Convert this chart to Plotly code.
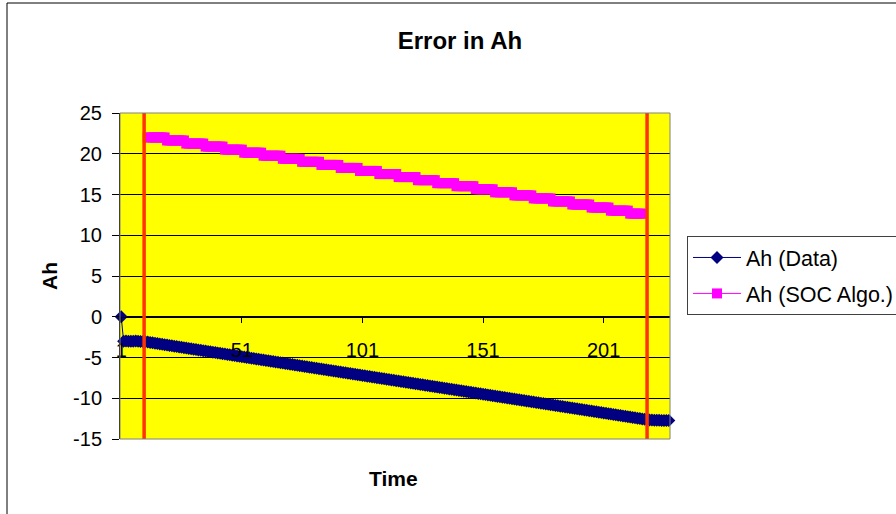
import plotly.graph_objects as go

# Sample index (category axis, 1..228)
time_idx = list(range(1, 229))
x_tick_vals = [1, 51, 101, 151, 201]
x_tick_text = ["1", "51", "101", "151", "201"]
y_tick_vals = [-15, -10, -5, 0, 5, 10, 15, 20, 25]
y_tick_text = ["-15", "-10", "-5", "0", "5", "10", "15", "20", "25"]

# Measured Ah
ah_data = [
    0.00,
    -3.00, -2.98, -3.00, -3.02, -3.00, -2.99, -3.01, -3.03, -3.04,
    -3.06, -3.11, -3.15, -3.20, -3.24, -3.29, -3.34, -3.38, -3.43, -3.47,
    -3.52, -3.57, -3.61, -3.66, -3.70, -3.75, -3.80, -3.84, -3.89, -3.93,
    -3.98, -4.03, -4.07, -4.12, -4.16, -4.21, -4.26, -4.30, -4.35, -4.39,
    -4.44, -4.49, -4.53, -4.58, -4.62, -4.67, -4.72, -4.76, -4.81, -4.85,
    -4.90, -4.95, -4.99, -5.04, -5.08, -5.13, -5.18, -5.22, -5.27, -5.31,
    -5.36, -5.41, -5.45, -5.50, -5.54, -5.59, -5.64, -5.68, -5.73, -5.77,
    -5.82, -5.87, -5.91, -5.96, -6.00, -6.05, -6.10, -6.14, -6.19, -6.23,
    -6.28, -6.33, -6.37, -6.42, -6.46, -6.51, -6.56, -6.60, -6.65, -6.69,
    -6.74, -6.79, -6.83, -6.88, -6.92, -6.97, -7.02, -7.06, -7.11, -7.15,
    -7.20, -7.25, -7.29, -7.34, -7.38, -7.43, -7.48, -7.52, -7.57, -7.61,
    -7.66, -7.71, -7.75, -7.80, -7.84, -7.89, -7.94, -7.98, -8.03, -8.07,
    -8.12, -8.17, -8.21, -8.26, -8.30, -8.35, -8.40, -8.44, -8.49, -8.53,
    -8.58, -8.63, -8.67, -8.72, -8.76, -8.81, -8.86, -8.90, -8.95, -8.99,
    -9.04, -9.09, -9.13, -9.18, -9.22, -9.27, -9.32, -9.36, -9.41, -9.45,
    -9.50, -9.55, -9.59, -9.64, -9.68, -9.73, -9.78, -9.82, -9.87, -9.91,
    -9.96, -10.01, -10.05, -10.10, -10.14, -10.19, -10.24, -10.28, -10.33, -10.37,
    -10.42, -10.47, -10.51, -10.56, -10.60, -10.65, -10.70, -10.74, -10.79, -10.83,
    -10.88, -10.93, -10.97, -11.02, -11.06, -11.11, -11.16, -11.20, -11.25, -11.29,
    -11.34, -11.39, -11.43, -11.48, -11.52, -11.57, -11.62, -11.66, -11.71, -11.75,
    -11.80, -11.85, -11.89, -11.94, -11.98, -12.03, -12.08, -12.12, -12.17, -12.21,
    -12.26, -12.31, -12.35, -12.40, -12.44, -12.49, -12.54, -12.58,
    -12.62, -12.66, -12.68, -12.70, -12.70, -12.71, -12.72, -12.72, -12.73, -12.73,
]

# Ah reported by the SOC algorithm (only inside the evaluation window)
ah_soc = [None] * 11 + [
    22.00, 22.00, 22.00, 22.00, 22.00, 22.00, 22.00, 22.00,
    21.63, 21.63, 21.63, 21.63, 21.63, 21.63, 21.63, 21.63,
    21.25, 21.25, 21.25, 21.25, 21.25, 21.25, 21.25, 21.25,
    20.88, 20.88, 20.88, 20.88, 20.88, 20.88, 20.88, 20.88,
    20.50, 20.50, 20.50, 20.50, 20.50, 20.50, 20.50, 20.50,
    20.13, 20.13, 20.13, 20.13, 20.13, 20.13, 20.13, 20.13,
    19.76, 19.76, 19.76, 19.76, 19.76, 19.76, 19.76, 19.76,
    19.38, 19.38, 19.38, 19.38, 19.38, 19.38, 19.38, 19.38,
    19.01, 19.01, 19.01, 19.01, 19.01, 19.01, 19.01, 19.01,
    18.63, 18.63, 18.63, 18.63, 18.63, 18.63, 18.63, 18.63,
    18.26, 18.26, 18.26, 18.26, 18.26, 18.26, 18.26, 18.26,
    17.89, 17.89, 17.89, 17.89, 17.89, 17.89, 17.89, 17.89,
    17.51, 17.51, 17.51, 17.51, 17.51, 17.51, 17.51, 17.51,
    17.14, 17.14, 17.14, 17.14, 17.14, 17.14, 17.14, 17.14,
    16.76, 16.76, 16.76, 16.76, 16.76, 16.76, 16.76, 16.76,
    16.39, 16.39, 16.39, 16.39, 16.39, 16.39, 16.39, 16.39,
    16.02, 16.02, 16.02, 16.02, 16.02, 16.02, 16.02, 16.02,
    15.64, 15.64, 15.64, 15.64, 15.64, 15.64, 15.64, 15.64,
    15.27, 15.27, 15.27, 15.27, 15.27, 15.27, 15.27, 15.27,
    14.89, 14.89, 14.89, 14.89, 14.89, 14.89, 14.89, 14.89,
    14.52, 14.52, 14.52, 14.52, 14.52, 14.52, 14.52, 14.52,
    14.15, 14.15, 14.15, 14.15, 14.15, 14.15, 14.15, 14.15,
    13.77, 13.77, 13.77, 13.77, 13.77, 13.77, 13.77, 13.77,
    13.40, 13.40, 13.40, 13.40, 13.40, 13.40, 13.40, 13.40,
    13.02, 13.02, 13.02, 13.02, 13.02, 13.02, 13.02, 13.02,
    12.65, 12.65, 12.65, 12.65, 12.65, 12.65,
] + [None] * 11

# Evaluation window boundaries (sample index)
window_bounds = [10.5, 219.0]

FONT = "Liberation Sans, Arial, sans-serif"

fig = go.Figure()

fig.add_trace(go.Scatter(
    x=time_idx, y=ah_data, name="Ah (Data)", mode="lines+markers",
    line=dict(color="#000080", width=1),
    marker=dict(symbol="diamond", size=10, color="#000080"),
    cliponaxis=False, legendgroup="a",
))
fig.add_trace(go.Scatter(
    x=time_idx, y=ah_soc, name="Ah (SOC Algo.)", mode="lines+markers",
    line=dict(color="#FF00FF", width=1),
    marker=dict(symbol="square", size=10, color="#FF00FF"),
    cliponaxis=False, legendgroup="b",
))

shapes = []
for xb in window_bounds:
    shapes.append(dict(type="line", xref="x", yref="paper", x0=xb, x1=xb,
                       y0=0, y1=1, line=dict(color="#FF3300", width=3.5),
                       layer="above"))
# plot-area border
shapes.append(dict(type="rect", xref="paper", yref="paper", x0=0, x1=1, y0=0, y1=1,
                   line=dict(color="#808080", width=1), layer="above"))
# chart-area frame
shapes.append(dict(type="rect", xref="paper", yref="paper",
                   x0=(7 - 120) / 550, x1=2.0, y0=-1.0, y1=(439 - 3) / 326,
                   line=dict(color="#000000", width=1), layer="above"))

fig.update_layout(
    width=896, height=514,
    margin=dict(l=120, r=226, t=113, b=75, autoexpand=False),
    paper_bgcolor="white", plot_bgcolor="#FFFF00",
    font=dict(family=FONT, size=20, color="black"),
    title=dict(text="<b>Error in Ah</b>", xref="container", yref="container",
               x=460 / 896, y=1 - 41 / 514, xanchor="center", yanchor="middle",
               font=dict(family=FONT, size=24, color="black")),
    showlegend=True,
    legend=dict(x=(687 - 120) / 550, y=(439 - 236) / 326, xanchor="left", yanchor="top",
                bgcolor="white", bordercolor="#404040", borderwidth=1,
                font=dict(family=FONT, size=21.5, color="black"),
                traceorder="grouped", tracegroupgap=5, itemwidth=48),
    shapes=shapes,
    hovermode=False,
)

fig.update_xaxes(
    range=[0.5, 228.5], anchor="free", position=(0 + 15) / 40,
    showgrid=False, zeroline=False,
    showline=True, linecolor="black", linewidth=1,
    ticks="outside", ticklen=5, tickcolor="black",
    tickvals=x_tick_vals, ticktext=x_tick_text,
    ticklabelstandoff=10,
    tickfont=dict(family=FONT, size=20, color="black"),
)
fig.update_yaxes(
    range=[-15, 25], tickvals=y_tick_vals, ticktext=y_tick_text,
    showgrid=True, gridcolor="black", gridwidth=1, zeroline=False,
    showline=True, linecolor="black", linewidth=1,
    ticks="outside", ticklen=7, tickcolor="black",
    ticklabelstandoff=6,
    tickfont=dict(family=FONT, size=20, color="black"),
)

fig.add_annotation(text="<b>Ah</b>", xref="paper", yref="paper",
                   x=(49 - 120) / 550, y=0.5, textangle=-90, showarrow=False,
                   xanchor="center", yanchor="middle",
                   font=dict(family=FONT, size=21, color="black"))
fig.add_annotation(text="<b>Time</b>", xref="paper", yref="paper",
                   x=(393 - 120) / 550, y=(439 - 478) / 326, showarrow=False,
                   xanchor="center", yanchor="middle",
                   font=dict(family=FONT, size=21, color="black"))

fig.write_html("out.html")
